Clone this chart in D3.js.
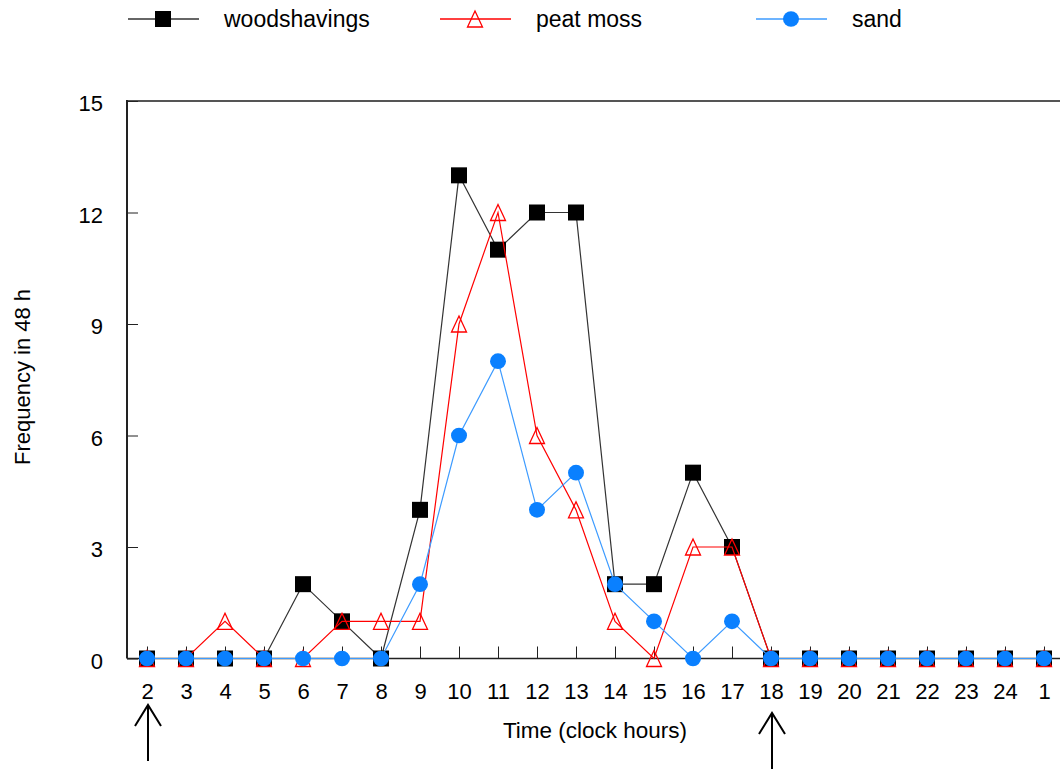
<!DOCTYPE html>
<html>
<head>
<meta charset="utf-8">
<script src="https://cdn.jsdelivr.net/npm/d3@7"></script>
<style>
  html, body { margin: 0; padding: 0; background: #fff; }
  svg { display: block; font-family: "Liberation Sans", Arial, sans-serif; }
</style>
</head>
<body>
<svg id="chart" width="1060" height="769"></svg>
<script>
// Clock hours on the x axis (48 h recording, starting at 2 o'clock)
const hours = ["2","3","4","5","6","7","8","9","10","11","12","13","14","15","16","17","18","19","20","21","22","23","24","1"];

// Frequency per hour for each substrate
const woodshavings = [0,0,0,0,2,1,0,4,13,11,12,12,2,2,5,3,0,0,0,0,0,0,0,0];
const peatMoss     = [0,0,1,0,0,1,1,1,9,12,6,4,1,0,3,3,0,0,0,0,0,0,0,0];
const sand         = [0,0,0,0,0,0,0,2,6,8,4,5,2,1,0,1,0,0,0,0,0,0,0,0];

const yTicks = [0,3,6,9,12,15];
const seriesNames = ["woodshavings","peat moss","sand"];
const arrowHours = ["2","18"];

(function () {
const svg = d3.select("#chart");
const plotLeft = 127, plotTop = 101, plotBottom = 658.5, plotRight = 1060;

const x = d3.scalePoint().domain(hours).range([147, 1044]);
const y = d3.scaleLinear().domain([0, 15]).range([plotBottom, plotTop]);

// frame: top border and axis lines
svg.append("line").attr("x1", plotLeft).attr("x2", plotRight).attr("y1", plotTop).attr("y2", plotTop)
  .attr("stroke", "#555").attr("stroke-width", 2);
svg.append("line").attr("x1", plotLeft).attr("x2", plotLeft).attr("y1", plotTop - 1).attr("y2", plotBottom)
  .attr("stroke", "#222").attr("stroke-width", 2);
svg.append("line").attr("x1", plotLeft).attr("x2", plotRight).attr("y1", plotBottom).attr("y2", plotBottom)
  .attr("stroke", "#222").attr("stroke-width", 1.5);

// x axis: ticks point inward (up)
const gx = svg.append("g").attr("transform", `translate(0,${plotBottom})`)
  .call(d3.axisBottom(x).tickSizeInner(-12).tickSizeOuter(0));
gx.select(".domain").remove();
gx.selectAll(".tick line").attr("stroke", "#222");
gx.selectAll(".tick text").attr("y", 40).attr("dy", 0)
  .attr("font-size", 22).attr("fill", "#000").attr("font-family", "Liberation Sans, Arial, sans-serif");

// y axis: ticks point inward (right)
const gy = svg.append("g").attr("transform", `translate(${plotLeft},0)`)
  .call(d3.axisLeft(y).tickValues(yTicks).tickSizeInner(-11).tickSizeOuter(0));
gy.select(".domain").remove();
gy.selectAll(".tick line").attr("stroke", "#222");
gy.selectAll(".tick text").attr("x", -24).attr("y", 2).attr("dy", "0.36em")
  .attr("font-size", 22).attr("fill", "#000").attr("font-family", "Liberation Sans, Arial, sans-serif");

// axis titles
svg.append("text").attr("x", 595).attr("y", 738).attr("text-anchor", "middle")
  .attr("font-size", 22.5).text("Time (clock hours)");
svg.append("text").attr("transform", "translate(30,377) rotate(-90)").attr("text-anchor", "middle")
  .attr("font-size", 22).text("Frequency in 48 h");

// marker drawing helpers
const styles = {
  "woodshavings": { line: "#333", width: 1.2 },
  "peat moss":    { line: "#ff0000", width: 1.2 },
  "sand":         { line: "#3d9bff", width: 1.2 }
};
function drawMarker(g, name, cx, cy) {
  if (name === "woodshavings") {
    g.append("rect").attr("x", cx - 8).attr("y", cy - 8).attr("width", 16).attr("height", 16)
      .attr("fill", "#000");
  } else if (name === "peat moss") {
    const h = 16, w = 15;
    g.append("path").attr("d", `M${cx},${cy - h/2}L${cx + w/2},${cy + h/2}L${cx - w/2},${cy + h/2}Z`)
      .attr("fill", "none").attr("stroke", "#ff0000").attr("stroke-width", 1.3);
  } else {
    g.append("ellipse").attr("cx", cx).attr("cy", cy).attr("rx", 8).attr("ry", 7.8)
      .attr("fill", "#0a80ff");
  }
}

const seriesValues = [woodshavings, peatMoss, sand];
const line = d3.line().x((d, i) => x(hours[i])).y(d => y(d));

seriesNames.forEach((name, si) => {
  const vals = seriesValues[si];
  const g = svg.append("g");
  g.append("path").datum(vals).attr("d", line).attr("fill", "none")
    .attr("stroke", styles[name].line).attr("stroke-width", styles[name].width);
  vals.forEach((v, i) => drawMarker(g, name, x(hours[i]), y(v)));
});

// legend
const legendX = [128, 440, 756];
const legendY = 19;
seriesNames.forEach((name, i) => {
  const g = svg.append("g");
  const x0 = legendX[i];
  g.append("line").attr("x1", x0).attr("x2", x0 + 71).attr("y1", legendY).attr("y2", legendY)
    .attr("stroke", styles[name].line).attr("stroke-width", 1.3);
  drawMarker(g, name, x0 + 35, legendY);
  g.append("text").attr("x", x0 + 96).attr("y", legendY + 8).attr("font-size", 23).text(name);
});

// arrows marking the start and end of the light phase
const arrowTips = { "2": 705, "18": 713 };
arrowHours.forEach(h => {
  const ax = x(h) + 1, tip = arrowTips[h];
  const g = svg.append("g").attr("stroke", "#000").attr("stroke-width", 2).attr("fill", "none");
  g.append("line").attr("x1", ax).attr("x2", ax).attr("y1", tip).attr("y2", tip + 56);
  g.append("path").attr("d", `M${ax - 13},${tip + 21}L${ax},${tip}L${ax + 13},${tip + 21}`);
});
})();
</script>
</body>
</html>
